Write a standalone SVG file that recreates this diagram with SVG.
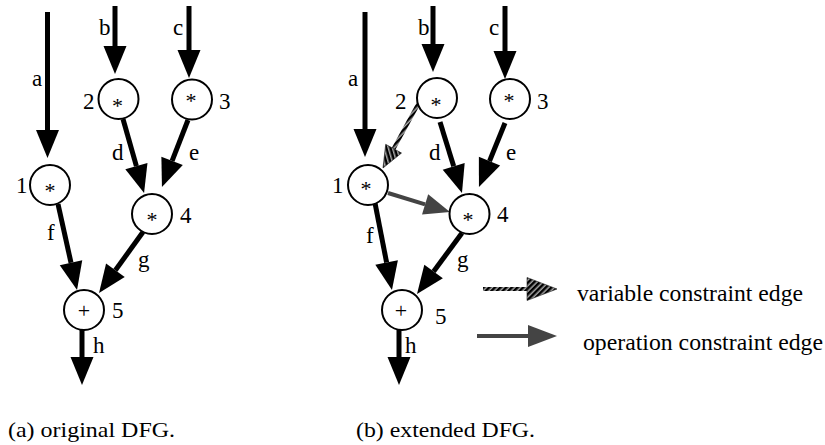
<svg xmlns="http://www.w3.org/2000/svg" width="825" height="445" viewBox="0 0 825 445" font-family="'Liberation Serif', 'Times New Roman', serif" font-size="23">
  <style>
    text { font-family: "Liberation Serif", "Times New Roman", serif; font-size: 23px; fill: #000; }
    .op { text-anchor: middle; font-size: 22px; }
    .node { fill: #fff; stroke: #000; stroke-width: 2; }
    .edge { stroke: #000; stroke-width: 5; fill: none; }
    .opc { stroke: #444; stroke-width: 4; fill: none; }
    .varc { stroke: url(#hatch); stroke-width: 4; fill: none; }
    .cap { font-size: 22px; }
  </style>
  <defs>
    <!-- diagonal black/grey hatching used by variable constraint edges -->
    <pattern id="hatch" patternUnits="userSpaceOnUse" width="4" height="4" patternTransform="rotate(45)">
      <rect width="4" height="4" fill="#aaa"/>
      <rect width="2.5" height="4" fill="#000"/>
    </pattern>
    <marker id="ah" markerUnits="userSpaceOnUse" markerWidth="28" markerHeight="23" refX="0" refY="11.5" orient="auto" overflow="visible">
      <path d="M0,0 L28,11.5 L0,23 Z" fill="#000"/>
    </marker>
    <marker id="ahOp" markerUnits="userSpaceOnUse" markerWidth="26" markerHeight="21" refX="0" refY="10.5" orient="auto" overflow="visible">
      <path d="M0,0 L26,10.5 L0,21 Z" fill="#444"/>
    </marker>
    <marker id="ahVar" markerUnits="userSpaceOnUse" markerWidth="22" markerHeight="18" refX="0" refY="9" orient="auto" overflow="visible">
      <path d="M0,0 L22,9 L0,18 Z" fill="url(#hatch)" stroke="#222" stroke-width="0.6"/>
    </marker>
  </defs>

  <!-- connectors -->
  <g id="connectors">
    <!-- (a) original DFG -->
    <line class="edge" x1="47.5" y1="12" x2="47.5" y2="130" marker-end="url(#ah)"/>
    <line class="edge" x1="115" y1="6" x2="115" y2="46" marker-end="url(#ah)"/>
    <line class="edge" x1="189" y1="6" x2="189" y2="50" marker-end="url(#ah)"/>
    <line class="edge" x1="123" y1="119" x2="136.4" y2="166.1" marker-end="url(#ah)"/>
    <line class="edge" x1="188" y1="120" x2="172.1" y2="160.9" marker-end="url(#ah)"/>
    <line class="edge" x1="58" y1="204" x2="71" y2="262.7" marker-end="url(#ah)"/>
    <line class="edge" x1="143" y1="232" x2="115.4" y2="270.3" marker-end="url(#ah)"/>
    <line class="edge" x1="82" y1="330" x2="82" y2="357" marker-end="url(#ah)"/>

    <!-- (b) extended DFG -->
    <line class="edge" x1="365" y1="12" x2="365" y2="129" marker-end="url(#ah)"/>
    <line class="edge" x1="433" y1="6" x2="433" y2="44" marker-end="url(#ah)"/>
    <line class="edge" x1="505" y1="6" x2="505" y2="51" marker-end="url(#ah)"/>
    <line class="edge" x1="440" y1="122" x2="453.7" y2="166.3" marker-end="url(#ah)"/>
    <line class="edge" x1="505" y1="123" x2="489.5" y2="161.1" marker-end="url(#ah)"/>
    <line class="edge" x1="375" y1="203" x2="386.6" y2="262.5" marker-end="url(#ah)"/>
    <line class="edge" x1="462" y1="233" x2="433.6" y2="271.5" marker-end="url(#ah)"/>
    <line class="edge" x1="399" y1="330" x2="399" y2="357" marker-end="url(#ah)"/>
    <!-- constraint edges -->
    <line class="varc" x1="422" y1="97" x2="393.6" y2="148.7" marker-end="url(#ahVar)"/>
    <line class="opc" x1="388" y1="193" x2="425.1" y2="204.4" marker-end="url(#ahOp)"/>

    <!-- edge labels (a) -->
    <text x="32" y="86">a</text>
    <text x="99" y="35">b</text>
    <text x="173" y="35">c</text>
    <text x="112" y="160">d</text>
    <text x="189" y="160">e</text>
    <text x="47" y="240">f</text>
    <text x="138" y="267">g</text>
    <text x="93" y="353">h</text>
    <!-- edge labels (b) -->
    <text x="348" y="86">a</text>
    <text x="418" y="35">b</text>
    <text x="489" y="35">c</text>
    <text x="429" y="160">d</text>
    <text x="506" y="160">e</text>
    <text x="366" y="243">f</text>
    <text x="457" y="267">g</text>
    <text x="405" y="353">h</text>
  </g>

  <!-- (a) original DFG nodes -->
  <g id="a-node1">
    <circle class="node" cx="50" cy="185" r="20"/>
    <text class="op" x="50" y="198">*</text>
    <text x="16" y="193">1</text>
  </g>
  <g id="a-node2">
    <circle class="node" cx="118.5" cy="99" r="20"/>
    <text class="op" x="117.5" y="113">*</text>
    <text x="83" y="109">2</text>
  </g>
  <g id="a-node3">
    <circle class="node" cx="192" cy="99.5" r="20"/>
    <text class="op" x="191" y="108">*</text>
    <text x="219" y="109">3</text>
  </g>
  <g id="a-node4">
    <circle class="node" cx="152" cy="214" r="20"/>
    <text class="op" x="152" y="227">*</text>
    <text x="180" y="223">4</text>
  </g>
  <g id="a-node5">
    <circle class="node" cx="84" cy="310" r="20"/>
    <text class="op" x="84" y="318">+</text>
    <text x="112" y="318">5</text>
  </g>

  <!-- (b) extended DFG nodes -->
  <g id="b-node1">
    <circle class="node" cx="368" cy="185" r="20"/>
    <text class="op" x="366" y="196">*</text>
    <text x="332" y="193">1</text>
  </g>
  <g id="b-node2">
    <circle class="node" cx="437" cy="98" r="20"/>
    <text class="op" x="436" y="112">*</text>
    <text x="395" y="109">2</text>
  </g>
  <g id="b-node3">
    <circle class="node" cx="510" cy="99" r="20"/>
    <text class="op" x="509" y="108">*</text>
    <text x="537" y="109">3</text>
  </g>
  <g id="b-node4">
    <circle class="node" cx="469.5" cy="214" r="20"/>
    <text class="op" x="468" y="227">*</text>
    <text x="497" y="222">4</text>
  </g>
  <g id="b-node5">
    <circle class="node" cx="402" cy="310" r="20"/>
    <text class="op" x="401" y="318">+</text>
    <text x="435" y="324">5</text>
  </g>

  <!-- legend -->
  <g id="legend-variable">
    <line class="varc" x1="483" y1="289" x2="527" y2="289" stroke-width="4.5"/>
    <path d="M527,277.5 L557,289 L527,300.5 Z" fill="url(#hatch)" stroke="#222" stroke-width="0.6"/>
    <text x="577" y="301" textLength="226" lengthAdjust="spacingAndGlyphs">variable constraint edge</text>
  </g>
  <g id="legend-operation">
    <line class="opc" x1="477" y1="336" x2="528" y2="336" stroke-width="4.5"/>
    <path d="M528,325 L557,336 L528,347 Z" fill="#444"/>
    <text x="583" y="350" textLength="240" lengthAdjust="spacingAndGlyphs">operation constraint edge</text>
  </g>

  <!-- captions -->
  <text class="cap" x="8" y="437" textLength="167" lengthAdjust="spacingAndGlyphs">(a) original DFG.</text>
  <text class="cap" x="356" y="437" textLength="179" lengthAdjust="spacingAndGlyphs">(b) extended DFG.</text>
</svg>
